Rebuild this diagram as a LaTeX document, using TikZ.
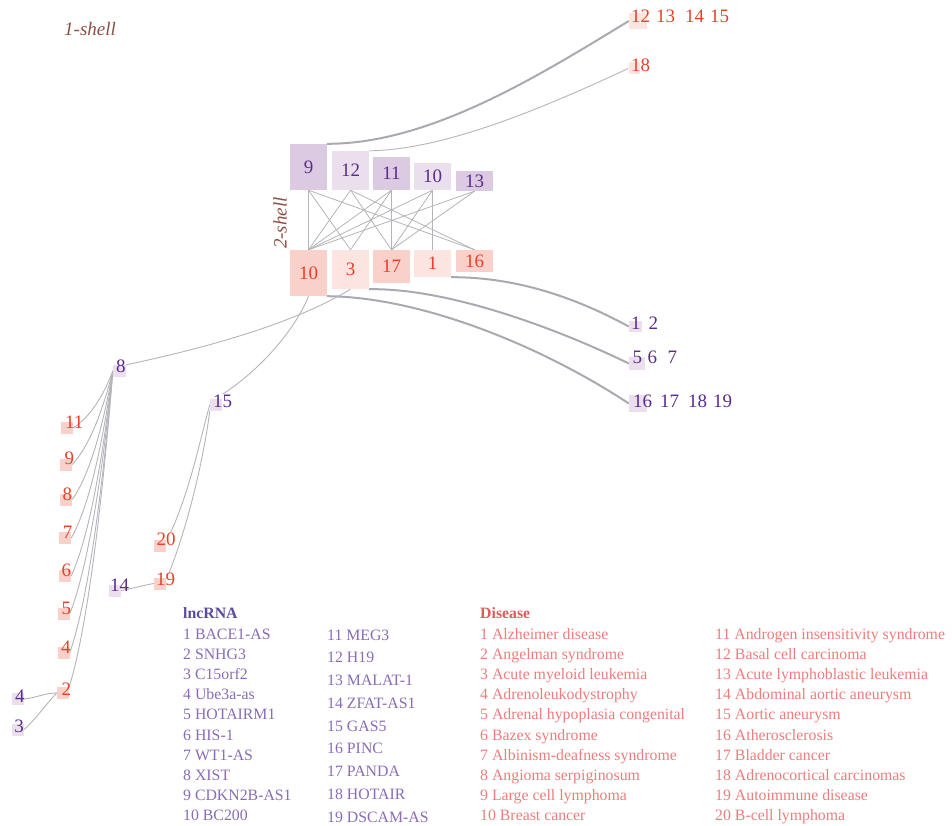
\documentclass[tikz,border=0pt]{standalone}
\usepackage{fontspec}
\setmainfont{Liberation Serif}
\usetikzlibrary{calc}
\pgfdeclarelayer{bg}
\pgfsetlayers{bg,main}
\definecolor{lncT}{HTML}{5A2D8A}
\definecolor{disT}{HTML}{E8402A}
\definecolor{lncD}{HTML}{DBCAE2}
\definecolor{lncL}{HTML}{EBDFEE}
\definecolor{disD}{HTML}{F9D1CA}
\definecolor{disL}{HTML}{FCE4E0}
\definecolor{edgeC}{HTML}{B4B4BA}
\definecolor{thickC}{HTML}{A9A9B1}
\definecolor{shellC}{HTML}{8C4F45}
\definecolor{legL}{HTML}{8A6CB6}
\definecolor{legLT}{HTML}{5C4A9E}
\definecolor{legD}{HTML}{EE7C7C}
\definecolor{legDT}{HTML}{E05A5A}
\begin{document}
\begin{tikzpicture}[x=1pt,y=-1pt,
  numf/.style={font=\fontsize{19}{19}\selectfont},
  bigbox/.style={rectangle, inner sep=0, minimum width=37pt, numf},
  lbox/.style={bigbox, text=lncT},
  dbox/.style={bigbox, text=disT},
  sq/.style={rectangle, inner sep=0, minimum width=12pt, minimum height=12pt},
  lsq/.style={sq, fill=lncL},
  dsq/.style={sq, fill=disD},
  ltxt/.style={numf, text=lncT, inner sep=0, anchor=base west},
  dtxt/.style={numf, text=disT, inner sep=0, anchor=base west},
  thinedge/.style={draw=edgeC, line width=0.9pt},
  thickedge/.style={draw=thickC, line width=2pt},
  coreedge/.style={draw=edgeC, line width=0.8pt},
  legi/.style={font=\fontsize{15.8}{16}\selectfont, anchor=base west, inner sep=0},
  shelllab/.style={font=\itshape\fontsize{19}{19}\selectfont, text=shellC, inner sep=0},
]
\useasboundingbox (0,0) rectangle (952,826);

% shell labels
\node[shelllab, anchor=base west] (s1) at (64,36) {1-shell};
\node[shelllab, rotate=90] (s2) at (280,223) {2-shell};

% 2-shell lncRNA boxes
\node[lbox, fill=lncD, minimum height=46pt] (L9) at (308.5,167) {9};
\node[lbox, fill=lncL, minimum height=39pt] (L12) at (350.5,170.5) {12};
\node[lbox, fill=lncD, minimum height=33pt] (L11) at (391.5,173.5) {11};
\node[lbox, fill=lncL, minimum height=27pt] (L10) at (432.5,176.5) {10};
\node[lbox, fill=lncD, minimum height=20pt] (L13) at (474.5,181) {13};

% 2-shell disease boxes
\node[dbox, fill=disD, minimum height=46pt] (D10) at (308.5,273) {10};
\node[dbox, fill=disL, minimum height=39pt] (D3) at (350.5,269.5) {3};
\node[dbox, fill=disD, minimum height=33pt] (D17) at (391.5,266.5) {17};
\node[dbox, fill=disL, minimum height=27pt] (D1) at (432.5,263.5) {1};
\node[dbox, fill=disD, minimum height=22pt] (D16) at (474.5,261) {16};

% right-side small nodes
\node[sq, fill=disL, minimum width=18pt, minimum height=16pt] (d12) at (638,21) {};
\node[dtxt] (d12t) at (630.9,23) {12\hspace{6pt}13\hspace{10pt}14\hspace{6pt}15};
\node[sq, fill=disL, minimum width=11pt, minimum height=12pt] (d18) at (634,68.5) {};
\node[dtxt] (d18t) at (630.9,72) {18};

\node[lsq, minimum width=13pt, minimum height=11pt] (r12) at (635.5,326.5) {};
\node[ltxt] (r12t) at (630.9,329) {1\hspace{8pt}2};
\node[lsq, minimum width=16pt, minimum height=13pt] (r567) at (637,363.5) {};
\node[ltxt] (r567t) at (632.4,363) {5\hspace{5.5pt}6\hspace{10.5pt}7};
\node[lsq, minimum width=18pt, minimum height=17pt] (r16) at (638,403.5) {};
\node[ltxt] (r16t) at (632.9,407) {16\hspace{8pt}17\hspace{9pt}18\hspace{6pt}19};

% left-side nodes
\node[lsq, minimum width=13pt] (n8) at (119.5,371) {};
\node[ltxt] (n8t) at (116,372) {8};
\node[lsq] (n15) at (216,404.5) {};
\node[ltxt] (n15t) at (212.9,407) {15};
\node[lsq] (n14) at (115,590.5) {};
\node[ltxt] (n14t) at (109.9,591) {14};
\node[lsq] (n4) at (18,699) {};
\node[ltxt] (n4t) at (14.8,702) {4};
\node[lsq] (n3) at (18,729.5) {};
\node[ltxt] (n3t) at (14.2,732) {3};

\node[dsq] (d11) at (67,428) {};
\node[dtxt] (d11t) at (65,428) {11};
\node[dsq] (d9) at (66,464.5) {};
\node[dtxt] (d9t) at (64.4,464) {9};
\node[dsq] (d8) at (66,499.5) {};
\node[dtxt] (d8t) at (62.3,500) {8};
\node[dsq] (d7) at (65,538) {};
\node[dtxt] (d7t) at (62.6,538) {7};
\node[dsq] (d6) at (65,576) {};
\node[dtxt] (d6t) at (61.4,576) {6};
\node[dsq] (d5) at (63.5,614) {};
\node[dtxt] (d5t) at (61.4,614) {5};
\node[dsq] (d4) at (63.5,653) {};
\node[dtxt] (d4t) at (60.8,653) {4};
\node[dsq] (d2) at (63,693) {};
\node[dtxt] (d2t) at (61.4,695) {2};
\node[dsq] (d20) at (160,545.5) {};
\node[dtxt] (d20t) at (156.4,545) {20};
\node[dsq] (d19) at (160,583.5) {};
\node[dtxt] (d19t) at (155.9,585) {19};

% edges
\begin{pgfonlayer}{bg}
% 2-shell core
\draw[coreedge] (L9.south) -- (D10.north);
\draw[coreedge] (L9.south) -- (D3.north);
\draw[coreedge] (L9.south) -- (D16.north);
\draw[coreedge] (L12.south) -- (D10.north);
\draw[coreedge] (L12.south) -- (D17.north);
\draw[coreedge] (L12.south) -- (D16.north);
\draw[coreedge] (L11.south) -- (D17.north);
\draw[coreedge] (L11.south) -- (D3.north);
\draw[coreedge] (L11.south) -- (D10.north);
\draw[coreedge] (L10.south) -- (D1.north);
\draw[coreedge] (L10.south) -- (D10.north);
\draw[coreedge] (L10.south) -- (D17.north);
\draw[coreedge] (L13.south) -- (D10.north);
\draw[coreedge] (L13.south) -- (D17.north);

% to the 1-shell on the right
\draw[thickedge] (L9.north east) .. controls (430,144) and (540,75) .. (d12.west);
\draw[thinedge] (L12.north east) .. controls (450,150) and (560,100) .. (d18.west);
\draw[thickedge] (D1.south east) .. controls (520,277) and (580,300) .. (r12.west);
\draw[thickedge] (D3.south east) .. controls (450,288) and (560,330) .. (r567.west);
\draw[thickedge] (D10.south east) .. controls (420,297) and (540,345) .. (r16.west);

% to the left
\draw[thinedge] (n8.north east) .. controls (220,345) and (300,320) .. (D3.south);
\draw[thinedge] (D10.south) .. controls (295,330) and (260,370) .. (n15t.north);

\draw[thinedge] (n8.west) .. controls (106.2,388.2) and (93.6,415) .. (d11.east);
\draw[thinedge] (n8.west) .. controls (105.6,399.8) and (92.1,443.5) .. (d9.east);
\draw[thinedge] (n8.west) .. controls (105.8,411) and (92.6,471.1) .. (d8.east);
\draw[thinedge] (n8.west) .. controls (105.6,423.4) and (92.1,501.9) .. (d7.east);
\draw[thinedge] (n8.west) .. controls (105.6,435) and (92.1,530.4) .. (d6.east);
\draw[thinedge] (n8.west) .. controls (105.3,446.8) and (91.1,559.6) .. (d5.east);
\draw[thinedge] (n8.west) .. controls (105.3,459.6) and (91.1,591.2) .. (d4.east);
\draw[thinedge] (n8.west) .. controls (105,470) and (90,620) .. (d2.north east);

\draw[thinedge] (n15.west) .. controls (200,440) and (190,490) .. ([xshift=-5pt]d20t.north east);
\draw[thinedge] (n15.south west) .. controls (205,450) and (190,520) .. ([xshift=-6pt]d19t.north east);
\draw[thinedge] (n14.east) .. controls (135,588) and (145,585) .. (d19.west);

\draw[thinedge] (d2.west) .. controls (45,693) and (35,698) .. (n4.east);
\draw[thinedge] (d2.west) .. controls (47,703) and (35,720) .. (n3.east);
\end{pgfonlayer}

% legend
\node[legi, text=legLT, font=\bfseries\fontsize{15.8}{16}\selectfont] (lt) at (183,618) {lncRNA};
\foreach \t [count=\i] in {1 BACE1-AS, 2 SNHG3, 3 C15orf2, 4 Ube3a-as, 5 HOTAIRM1, 6 HIS-1, 7 WT1-AS, 8 XIST, 9 CDKN2B-AS1, 10 BC200}
  \node[legi, text=legL] (la\i) at (183,{618.8+20.2*\i}) {\t};
\foreach \t [count=\i] in {11 MEG3, 12 H19, 13 MALAT-1, 14 ZFAT-AS1, 15 GAS5, 16 PINC, 17 PANDA, 18 HOTAIR, 19 DSCAM-AS}
  \node[legi, text=legL] (lb\i) at (327,{617.25+22.75*\i}) {\t};

\node[legi, text=legDT, font=\bfseries\fontsize{15.8}{16}\selectfont] (dt) at (480,618) {Disease};
\foreach \t [count=\i] in {1 Alzheimer disease, 2 Angelman syndrome, 3 Acute myeloid leukemia, 4 Adrenoleukodystrophy, 5 Adrenal hypoplasia congenital, 6 Bazex syndrome, 7 Albinism-deafness syndrome, 8 Angioma serpiginosum, 9 Large cell lymphoma, 10 Breast cancer}
  \node[legi, text=legD] (da\i) at (480,{618.8+20.2*\i}) {\t};
\foreach \t [count=\i] in {11 Androgen insensitivity syndrome, 12 Basal cell carcinoma, 13 Acute lymphoblastic leukemia, 14 Abdominal aortic aneurysm, 15 Aortic aneurysm, 16 Atherosclerosis, 17 Bladder cancer, 18 Adrenocortical carcinomas, 19 Autoimmune disease, 20 B-cell lymphoma}
  \node[legi, text=legD] (db\i) at (715,{618.8+20.2*\i}) {\t};
\end{tikzpicture}
\end{document}
